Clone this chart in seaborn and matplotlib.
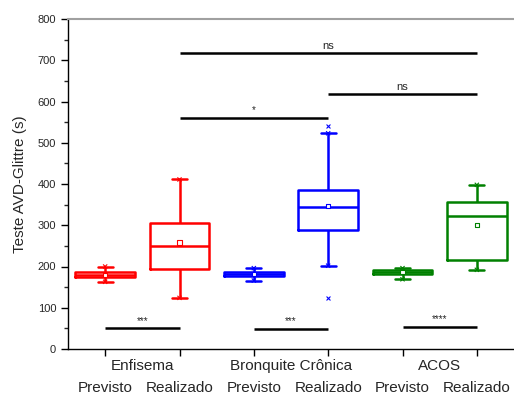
import numpy as np
import pandas as pd
import seaborn as sns
import matplotlib.pyplot as plt
from matplotlib.ticker import MultipleLocator
import matplotlib.transforms as mtransforms

# box labels, left to right
boxes = ["Enf_P", "Enf_R", "Bro_P", "Bro_R", "ACO_P", "ACO_R"]
tick_labels = ["Previsto", "Realizado"] * 3
groups = ["Enfisema", "Bronquite Crônica", "ACOS"]
colors = ["#ff0000", "#ff0000", "#0000ff", "#0000ff", "#008000", "#008000"]

# five-number summaries (s)
lows = [163, 124, 166, 202, 169, 192]
q1s = [174, 194, 177, 289, 182, 216]
medians = [180, 250, 182, 344, 187, 322]
q3s = [186, 306, 187, 385, 191, 357]
highs = [200, 411, 196, 523, 196, 398]
means = [180, 258, 182, 347, 187, 301]

# outliers (box index, value)
outlier_box = [3, 3]
outlier_val = [540, 123]

# significance bars: (from box, to box, y, label)
sig_from = [0, 2, 4, 1, 3, 1]
sig_to = [1, 3, 5, 3, 5, 5]
sig_y = [50, 49, 54, 560, 618, 717]
sig_text = ["***", "***", "****", "*", "ns", "ns"]

rows = []
for b, lo, a, m, c, hi in zip(boxes, lows, q1s, medians, q3s, highs):
    for v in (lo, a, m, c, hi):
        rows.append({"box": b, "value": v})
df = pd.DataFrame(rows)

sns.set_theme(style="ticks")
plt.rcParams["font.family"] = ["Liberation Sans", "DejaVu Sans"]

fig = plt.figure(figsize=(5.14, 3.94), dpi=100)
ax = fig.add_axes([68 / 514, 1 - 349 / 394, 446 / 514, 330 / 394])

sns.boxplot(
    data=df, x="box", y="value", hue="box", order=boxes,
    palette=dict(zip(boxes, colors)), legend=False,
    whis=(0, 100), fill=False, width=0.8, linewidth=1.8,
    capwidths=0.2, ax=ax,
)

# min/max markers at whisker ends
ax.scatter(range(6), highs, marker="x", s=9, c=colors, linewidths=0.8, zorder=4)
ax.scatter(range(6), lows, marker="x", s=9, c=colors, linewidths=0.8, zorder=4)
# mean markers
ax.scatter(range(6), means, marker="s", s=9, facecolors="white",
           edgecolors=colors, linewidths=0.8, zorder=5)
ax.scatter(outlier_box, outlier_val, marker="x", s=8, c="#0000ff",
           linewidths=0.8, zorder=4)

for a, b, y, t in zip(sig_from, sig_to, sig_y, sig_text):
    ax.plot([a, b], [y, y], color="black", lw=1.8, solid_capstyle="butt")
    ax.text((a + b) / 2, y + 6, t, ha="center", va="bottom",
            fontsize=8 if t == "ns" else 7)

ax.set_xlim(-0.5, 5.5)
ax.set_ylim(0, 800)
ax.yaxis.set_major_locator(MultipleLocator(100))
ax.yaxis.set_minor_locator(MultipleLocator(50))
ax.tick_params(axis="both", which="major", direction="out", length=5,
               width=1, color="black", labelsize=8)
ax.tick_params(axis="y", which="minor", direction="out", length=3, width=1)
ax.set_xticks(range(6))
ax.set_xticklabels([])
ax.set_xlabel("")
ax.set_ylabel("Teste AVD-Glittre (s)", fontsize=11, labelpad=8)

trans = mtransforms.blended_transform_factory(ax.transData, ax.transAxes)
for i, lab in enumerate(tick_labels):
    ax.text(i, -0.117, lab, transform=trans, ha="center", va="center",
            fontsize=11)
for i, g in enumerate(groups):
    ax.text(2 * i + 0.5, -0.052, g, transform=trans, ha="center",
            va="center", fontsize=11)

for s in ("left", "bottom"):
    ax.spines[s].set_color("black")
    ax.spines[s].set_linewidth(1)
ax.spines["top"].set_color("#a0a0a0")
ax.spines["top"].set_linewidth(1.5)
ax.spines["right"].set_visible(False)

fig.savefig("out.png", dpi=100)
